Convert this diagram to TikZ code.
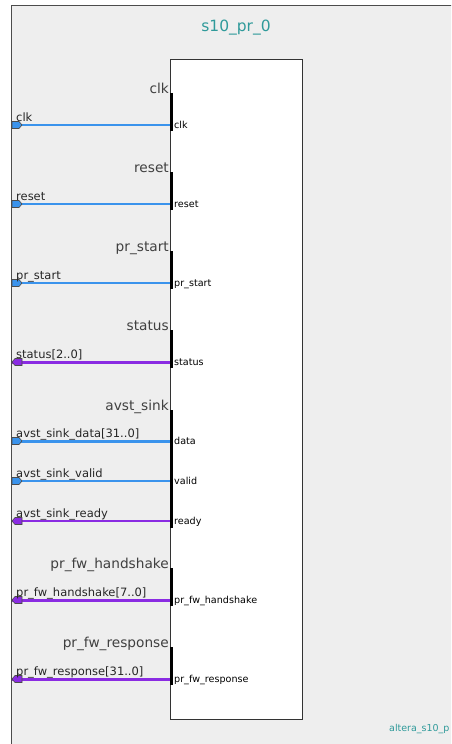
\documentclass[tikz,border=0pt]{standalone}
\usepackage{fontspec}
\setmainfont{DejaVu Sans}

\definecolor{bggray}{HTML}{EEEEEE}
\definecolor{sigblue}{HTML}{3A93EC}
\definecolor{sigpurple}{HTML}{8A2BE2}
\definecolor{titleteal}{HTML}{2F9A9A}

\begin{document}
\begin{tikzpicture}[x=1pt, y=-1pt,
  grp/.style={anchor=base east, inner sep=0pt, text=black!75,
    font=\fontsize{13.7}{15}\selectfont},
  pinlbl/.style={anchor=base west, inner sep=0pt, text=black!85,
    font=\fontsize{11.5}{12}\selectfont},
  inlbl/.style={anchor=base west, inner sep=0pt,
    font=\fontsize{9.6}{10}\selectfont},
  portbar/.style={line width=3pt},
  insig/.style={draw=sigblue},
  outsig/.style={draw=sigpurple},
  insigpin/.pic={\draw[fill=sigblue, draw=black!70, line width=0.6pt]
    (0,-3.5) -- (7,-3.5) -- (10,0) -- (7,3.5) -- (0,3.5) -- cycle;},
  outsigpin/.pic={\draw[fill=sigpurple, draw=black!70, line width=0.6pt]
    (10,-3.5) -- (3,-3.5) -- (0,0) -- (3,3.5) -- (10,3.5) -- cycle;}]

  \useasboundingbox (0,0) rectangle (451,744);
  \clip (0,0) rectangle (451,744);
  \fill[white] (0,0) rectangle (451,744);

  % outer frame and block
  \draw[fill=bggray, draw=black!70] (11,5) rectangle (480,780);
  \node[text=titleteal, font=\fontsize{15.5}{17}\selectfont] (ttl) at (236,28) {s10\_pr\_0};
  \node[draw=black!80, fill=white, line width=1pt, inner sep=0pt, anchor=north west,
    minimum width=132, minimum height=660] (blk) at (170,59) {};
  \node[anchor=base west, inner sep=0pt, text=titleteal,
    font=\fontsize{9.5}{10}\selectfont] (inst) at (389,731) {altera\_s10\_p};

  % interface groups
  \foreach \top/\bot/\txt [count=\j] in {93/131/clk, 172/210/reset,
      251/289/pr\_start, 330/368/status, 410/528/avst\_sink,
      568/606/pr\_fw\_handshake, 647/685/pr\_fw\_response} {
    \coordinate (bt\j) at (171.5,\top);
    \coordinate (bb\j) at (171.5,\bot);
    \draw[portbar] (bt\j) -- (bb\j);
    \node[grp] (grp\j) at (169,\top) {\txt};
  }

  % signals
  \foreach \y/\outer/\inner/\kind/\w [count=\i] in {
      125/clk/clk/insig/1.3, 204/reset/reset/insig/1.3, 283/pr\_start/pr\_start/insig/1.3,
      362/{status[2..0]}/status/outsig/3,
      441/{avst\_sink\_data[31..0]}/data/insig/3,
      481/avst\_sink\_valid/valid/insig/1.3,
      521/avst\_sink\_ready/ready/outsig/1.3,
      600/{pr\_fw\_handshake[7..0]}/pr\_fw\_handshake/outsig/3,
      679/{pr\_fw\_response[31..0]}/pr\_fw\_response/outsig/3} {
    \coordinate (pin\i) at (12,\y);
    \coordinate (port\i) at (blk.west |- pin\i);
    \draw[\kind, line width=\w pt] (pin\i) -- (port\i);
    \pic at (pin\i) {\kind pin};
    \node[pinlbl] (lbl\i) at (16,\y-4) {\outer};
    \node[inlbl] (sig\i) at (174,\y+3) {\inner};
  }
\end{tikzpicture}
\end{document}
